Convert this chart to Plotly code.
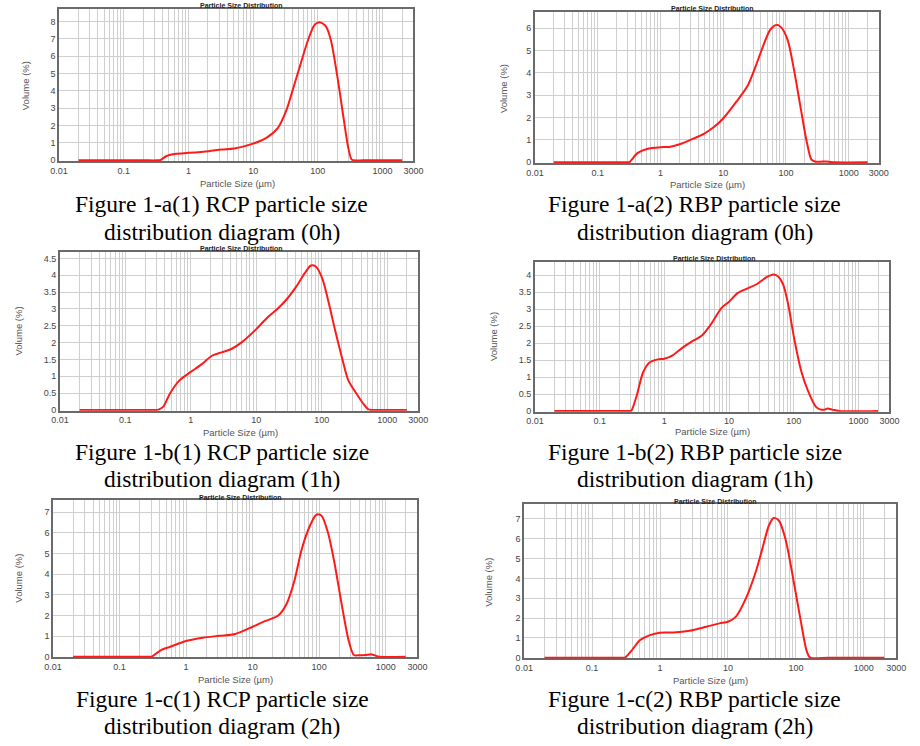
import math
import plotly.graph_objects as go

# ---------------- data ----------------
grid_ticks = [m * 10 ** k for k in range(-2, 4) for m in range(1, 10) if m * 10 ** k <= 2000] + [3000]
label_ticks = {0.01: "0.01", 0.1: "0.1", 1: "1", 10: "10", 100: "100", 1000: "1000", 3000: "3000"}

size_a1 = [0.02, 0.2, 0.33, 0.37, 0.46, 0.65, 1.0, 2.06, 3.24, 5.1, 10, 16, 24, 32, 40, 53, 71, 89, 106, 133, 158, 199, 250, 295, 331, 360, 500, 2000]
vol_a1 = [0, 0, 0, 0.02, 0.25, 0.38, 0.43, 0.53, 0.62, 0.68, 0.96, 1.29, 1.85, 2.8, 3.93, 5.44, 6.96, 7.8, 7.96, 7.71, 6.96, 4.88, 2.42, 0.72, 0.06, 0, 0, 0]

size_a2 = [0.02, 0.2, 0.3, 0.32, 0.43, 0.61, 1.0, 1.39, 1.97, 3.2, 5.0, 7.2, 10, 16, 24.5, 33, 44, 56, 70, 84, 106, 134, 169, 214, 255, 290, 350, 432, 520, 600, 2000]
vol_a2 = [0, 0, 0, 0.01, 0.41, 0.6, 0.68, 0.69, 0.8, 1.04, 1.29, 1.59, 1.96, 2.69, 3.43, 4.31, 5.26, 5.93, 6.15, 6.04, 5.49, 4.16, 2.54, 0.93, 0.12, 0.04, 0.03, 0.04, 0.01, 0, 0]

size_b1 = [0.02, 0.2, 0.3, 0.32, 0.38, 0.48, 0.67, 1.0, 1.49, 2.1, 2.96, 4.17, 5.9, 10, 14.7, 20.6, 29, 41, 55, 68.6, 81, 102, 128, 161, 203, 255, 339, 427, 507, 568, 700, 2000]
vol_b1 = [0, 0, 0, 0.01, 0.1, 0.49, 0.88, 1.13, 1.37, 1.61, 1.71, 1.81, 2.0, 2.4, 2.74, 2.98, 3.28, 3.67, 4.06, 4.29, 4.26, 3.91, 3.18, 2.35, 1.57, 0.88, 0.49, 0.2, 0.03, 0, 0, 0]

size_b2 = [0.02, 0.2, 0.3, 0.31, 0.37, 0.47, 0.59, 0.79, 1.0, 1.34, 1.89, 2.84, 3.8, 5.4, 7.6, 10, 13.5, 19.3, 27, 38.6, 48.7, 58, 69, 82, 103, 130, 165, 220, 260, 300, 331, 395, 500, 2000]
vol_b2 = [0, 0, 0, 0.01, 0.42, 1.14, 1.43, 1.52, 1.54, 1.64, 1.86, 2.08, 2.22, 2.59, 3.03, 3.22, 3.47, 3.61, 3.74, 3.95, 4.02, 3.95, 3.71, 3.13, 2.06, 1.18, 0.6, 0.12, 0.04, 0.04, 0.07, 0.04, 0, 0]

size_c1 = [0.02, 0.2, 0.3, 0.31, 0.42, 0.58, 1.0, 1.79, 3.16, 5.5, 10, 15.3, 24, 31.8, 42, 55, 73, 91, 108, 135, 169, 224, 281, 333, 400, 493, 617, 700, 800, 2000]
vol_c1 = [0, 0, 0, 0.01, 0.32, 0.48, 0.76, 0.92, 1.01, 1.1, 1.45, 1.72, 1.98, 2.5, 3.62, 5.23, 6.36, 6.88, 6.84, 6.04, 4.59, 2.33, 0.72, 0.08, 0.07, 0.08, 0.11, 0.05, 0, 0]

size_c2 = [0.02, 0.2, 0.3, 0.31, 0.37, 0.51, 0.71, 1.0, 1.56, 2.73, 4.8, 7.5, 10, 13, 18.3, 25.6, 32, 40, 47, 56, 70, 87.5, 116, 145, 162, 300, 2000]
vol_c2 = [0, 0, 0, 0.01, 0.3, 0.89, 1.14, 1.26, 1.27, 1.36, 1.56, 1.73, 1.81, 2.06, 2.98, 4.32, 5.49, 6.67, 7.05, 6.92, 6.0, 4.32, 1.98, 0.3, 0, 0, 0]

captions = [
    ("Figure 1-a(1) RCP particle size", "distribution diagram (0h)"),
    ("Figure 1-a(2) RBP particle size", "distribution diagram (0h)"),
    ("Figure 1-b(1) RCP particle size", "distribution diagram (1h)"),
    ("Figure 1-b(2) RBP particle size", "distribution diagram (1h)"),
    ("Figure 1-c(1) RCP particle size", "distribution diagram (2h)"),
    ("Figure 1-c(2) RBP particle size", "distribution diagram (2h)"),
]
chart_title = "Particle Size Distribution"
x_title = "Particle Size (µm)"
y_title = "Volume (%)"

# ---------------- layout geometry (pixels) ----------------
W, H = 920, 746
series = [(size_a1, vol_a1), (size_a2, vol_a2), (size_b1, vol_b1),
          (size_b2, vol_b2), (size_c1, vol_c1), (size_c2, vol_c2)]
frames = [(51, 413, 9, 162), (537, 888, 12, 164), (52, 418, 253, 413),
          (537, 899, 263, 414), (45, 417, 503, 661), (526, 906, 507, 662)]
ytops = [8.72, 6.73, 4.7, 4.4, 7.58, 7.74]
ydticks = [1, 1, 0.5, 0.5, 1, 1]
title_pos = [(237, 5.5), (718, 9), (237, 249.5), (720, 260), (236, 500), (721, 504)]
xlab_pos = [(233, 184), (713, 185), (236, 435), (718, 434), (231, 683), (716, 684)]
ylab_pos = [(17, 86), (505, 89), (9.5, 333), (494, 338), (10, 581), (490, 585)]
cap_pos = [(217, 205, 233), (700, 205, 233), (218, 454, 482),
           (700, 454, 482), (218, 703, 730), (700, 703, 730)]

def px(x):
    return x / W

def py(y):
    return 1 - y / H

fig = go.Figure()
annotations = []
axis_font = dict(family="Liberation Sans, Arial", size=9, color="#444444")

for i, ((xs, ys), (L, R, T, B)) in enumerate(zip(series, frames)):
    n = i + 1
    xa = "x" if n == 1 else f"x{n}"
    ya = "y" if n == 1 else f"y{n}"
    fig.add_trace(go.Scatter(
        x=xs, y=ys, mode="lines", xaxis=xa, yaxis=ya,
        line=dict(color="#ff1a1a", width=2, shape="spline", smoothing=0.8),
        showlegend=False, hoverinfo="x+y"))
    ymin = -ytops[i] * 0.8 / (B - T)
    fig.layout[f"xaxis{'' if n == 1 else n}"] = dict(
        domain=[px(L), px(R)], anchor=ya, type="log",
        range=[math.log10(0.01), math.log10(3000)],
        tickmode="array", tickvals=grid_ticks,
        ticktext=[label_ticks.get(v, "") for v in grid_ticks],
        ticks="", showgrid=True, gridcolor="#cfcfcf", gridwidth=1,
        showline=True, mirror=True, linecolor="#6a6a6a", linewidth=1.5,
        zeroline=False, tickfont=axis_font, layer="below traces", fixedrange=True)
    fig.layout[f"yaxis{'' if n == 1 else n}"] = dict(
        domain=[py(B), py(T)], anchor=xa,
        range=[ymin, ytops[i]], tick0=0, dtick=ydticks[i],
        ticks="", showgrid=True, gridcolor="#cfcfcf", gridwidth=1,
        showline=True, mirror=True, linecolor="#6a6a6a", linewidth=1.5,
        zeroline=False, tickfont=axis_font, layer="below traces", fixedrange=True)

    tx, ty = title_pos[i]
    annotations.append(dict(x=px(tx), y=py(ty), xref="paper", yref="paper",
                            text=f"<b>{chart_title}</b>", showarrow=False,
                            xanchor="center", yanchor="middle",
                            font=dict(family="Liberation Sans, Arial", size=7, color="#222222")))
    lx, ly = xlab_pos[i]
    annotations.append(dict(x=px(lx), y=py(ly), xref="paper", yref="paper",
                            text=x_title, showarrow=False,
                            xanchor="center", yanchor="middle",
                            font=dict(family="Liberation Sans, Arial", size=9.5, color="#555555")))
    vx, vy = ylab_pos[i]
    annotations.append(dict(x=px(vx), y=py(vy), xref="paper", yref="paper",
                            text=y_title, showarrow=False, textangle=-90,
                            xanchor="center", yanchor="middle",
                            font=dict(family="Liberation Sans, Arial", size=9.5, color="#555555")))
    cx, c1, c2 = cap_pos[i]
    for line, cy in zip(captions[i], (c1, c2)):
        annotations.append(dict(x=px(cx), y=py(cy), xref="paper", yref="paper",
                                text=line, showarrow=False,
                                xanchor="center", yanchor="middle",
                                font=dict(family="Liberation Serif, Times New Roman", size=23.5, color="#000000")))

fig.update_layout(
    width=W, height=H, autosize=False,
    margin=dict(l=0, r=0, t=0, b=0),
    paper_bgcolor="white", plot_bgcolor="white",
    annotations=annotations, showlegend=False)

fig.write_html("out.html", config={"displayModeBar": False},
               post_script="document.body.style.margin='0';document.body.style.overflow='hidden';")
